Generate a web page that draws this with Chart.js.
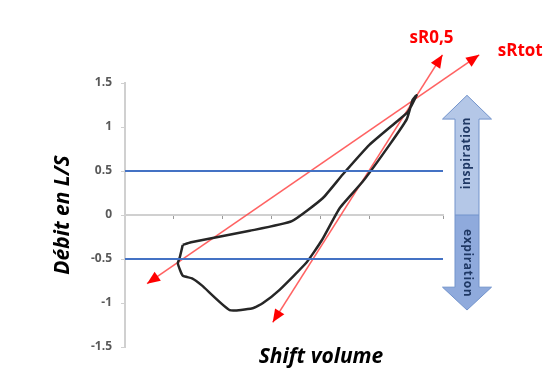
<!DOCTYPE html>
<html>
<head>
<meta charset="utf-8">
<script src="https://cdn.jsdelivr.net/npm/chart.js@4.4.0/dist/chart.umd.min.js"></script>
<style>
  html, body { margin: 0; padding: 0; background: #fff; }
  #wrap { width: 559px; height: 385px; }
</style>
</head>
<body>
<div id="wrap"><canvas id="boucle"></canvas></div>
<script>
// boucle debit / shift volume (volume en unites arbitraires)
var loopX = [1.18, 1.35, 2.55, 3.41, 4.04, 4.45, 5.0, 5.55, 5.78, 5.96, 5.88, 5.76, 5.41, 4.86, 4.39, 4.02, 3.71, 3.16, 2.82, 2.61, 2.14, 1.57, 1.37, 1.18, 1.08, 1.12, 1.18];
var loopY = [-0.34, -0.31, -0.18, -0.07, 0.19, 0.46, 0.80, 1.06, 1.17, 1.36, 1.31, 1.09, 0.80, 0.38, 0.08, -0.29, -0.54, -0.85, -1.0, -1.06, -1.08, -0.80, -0.72, -0.69, -0.55, -0.48, -0.34];

// droites de resistance (extremites)
var sRtotX = [0.45, 7.24];
var sRtotY = [-0.78, 1.82];
var sR05X = [3.02, 6.49];
var sR05Y = [-1.22, 1.82];

// seuils +/- 0.5 L/S
var seuils = [0.5, -0.5];
var xMin = 0, xMax = 6.5;
var yTickLabels = ['-1.5', '-1', '-0.5', '0', '0.5', '1', '1.5'];

function pts(xs, ys) {
  return xs.map(function (x, i) { return { x: x, y: ys[i] }; });
}

function drawHead(ctx, from, to, color) {
  var a = Math.atan2(to.y - from.y, to.x - from.x);
  ctx.save();
  ctx.translate(to.x, to.y);
  ctx.rotate(a);
  ctx.beginPath();
  ctx.moveTo(0, 0);
  ctx.lineTo(-13, -5.5);
  ctx.lineTo(-13, 5.5);
  ctx.closePath();
  ctx.fillStyle = color;
  ctx.fill();
  ctx.restore();
}

var decorPlugin = {
  id: 'decor',
  afterDatasetsDraw: function (chart) {
    var ctx = chart.ctx;
    var area = chart.chartArea;
    var ys = chart.scales.y;

    // pointes de fleche + noms des droites
    chart.data.datasets.forEach(function (ds, i) {
      if (!ds.arrows) return;
      var p = chart.getDatasetMeta(i).data;
      drawHead(ctx, p[1], p[0], '#ff0000');
      drawHead(ctx, p[0], p[1], '#ff0000');
      ctx.save();
      ctx.font = 'bold 17px "Open Sans"';
      ctx.fillStyle = '#ff0000';
      ctx.textAlign = 'center';
      ctx.textBaseline = 'middle';
      ctx.fillText(ds.label, p[1].x + ds.labelDx, p[1].y + ds.labelDy);
      ctx.restore();
    });

    // double fleche inspiration / expiration
    var xc = area.right + 24;
    var top = ys.getPixelForValue(1.36), topBase = ys.getPixelForValue(1.09);
    var mid = ys.getPixelForValue(0);
    var botBase = ys.getPixelForValue(-0.82), bot = ys.getPixelForValue(-1.08);
    var sw = 12, hw = 24.5;
    ctx.save();
    ctx.beginPath();
    ctx.moveTo(xc, top);
    ctx.lineTo(xc + hw, topBase);
    ctx.lineTo(xc + sw, topBase);
    ctx.lineTo(xc + sw, mid);
    ctx.lineTo(xc - sw, mid);
    ctx.lineTo(xc - sw, topBase);
    ctx.lineTo(xc - hw, topBase);
    ctx.closePath();
    ctx.fillStyle = '#b4c7e7';
    ctx.fill();
    ctx.beginPath();
    ctx.moveTo(xc, bot);
    ctx.lineTo(xc + hw, botBase);
    ctx.lineTo(xc + sw, botBase);
    ctx.lineTo(xc + sw, mid);
    ctx.lineTo(xc - sw, mid);
    ctx.lineTo(xc - sw, botBase);
    ctx.lineTo(xc - hw, botBase);
    ctx.closePath();
    ctx.fillStyle = '#8faadc';
    ctx.fill();
    ctx.beginPath();
    ctx.moveTo(xc, top);
    ctx.lineTo(xc + hw, topBase);
    ctx.lineTo(xc + sw, topBase);
    ctx.lineTo(xc + sw, botBase);
    ctx.lineTo(xc + hw, botBase);
    ctx.lineTo(xc, bot);
    ctx.lineTo(xc - hw, botBase);
    ctx.lineTo(xc - sw, botBase);
    ctx.lineTo(xc - sw, topBase);
    ctx.lineTo(xc - hw, topBase);
    ctx.closePath();
    ctx.moveTo(xc - sw, mid);
    ctx.lineTo(xc + sw, mid);
    ctx.strokeStyle = '#7293cb';
    ctx.lineWidth = 1;
    ctx.stroke();

    ctx.fillStyle = '#1f3864';
    ctx.font = 'bold 12px "Open Sans"';
    ctx.letterSpacing = '0.6px';
    ctx.textAlign = 'center';
    ctx.textBaseline = 'middle';
    ctx.save();
    ctx.translate(xc, (topBase + mid) / 2 - 14);
    ctx.rotate(-Math.PI / 2);
    ctx.fillText('inspiration', 0, 0);
    ctx.restore();
    ctx.save();
    ctx.translate(xc, (botBase + mid) / 2 + 12);
    ctx.rotate(Math.PI / 2);
    ctx.fillText('expiration', 0, 0);
    ctx.restore();
    ctx.letterSpacing = '0px';

    // titre de l'axe horizontal
    ctx.fillStyle = '#000';
    ctx.font = 'italic bold 21px "Open Sans"';
    ctx.fillText('Shift volume', (area.left + area.right) / 2 + 37, area.bottom + 10);
    ctx.restore();
  }
};

var datasets = [];
seuils.forEach(function (v) {
  datasets.push({
    label: 'seuil ' + v,
    data: pts([xMin, xMax], [v, v]),
    borderColor: '#4472c4',
    borderWidth: 2,
    pointRadius: 0
  });
});
datasets.push({
  label: 'boucle',
  data: pts(loopX, loopY),
  borderColor: '#262626',
  borderWidth: 2.5,
  pointRadius: 0,
  tension: 0.15
});
datasets.push({
  label: 'sRtot',
  data: pts(sRtotX, sRtotY),
  borderColor: 'rgba(255, 70, 70, 0.85)',
  borderWidth: 1.6,
  pointRadius: 0,
  clip: false,
  arrows: true,
  labelDx: 41,
  labelDy: -4
});
datasets.push({
  label: 'sR0,5',
  data: pts(sR05X, sR05Y),
  borderColor: 'rgba(255, 70, 70, 0.85)',
  borderWidth: 1.6,
  pointRadius: 0,
  clip: false,
  arrows: true,
  labelDx: -11,
  labelDy: -17
});

var ctx = document.getElementById('boucle').getContext('2d');

new Chart(ctx, {
  type: 'scatter',
  data: { datasets: datasets },
  options: {
    responsive: true,
    maintainAspectRatio: false,
    animation: false,
    showLine: true,
    layout: { padding: { left: 0, top: 83, right: 116, bottom: 38 } },
    plugins: { legend: { display: false }, tooltip: { enabled: false } },
    scales: {
      x: {
        type: 'linear',
        min: xMin,
        max: xMax,
        position: { y: 0 },
        ticks: { display: false, stepSize: 1 },
        grid: { drawOnChartArea: false, drawTicks: true, tickLength: 3, color: '#9a9a9a' },
        border: { color: '#d0d0d0', width: 2 }
      },
      y: {
        type: 'linear',
        min: -1.5,
        max: 1.5,
        afterFit: function (scale) { scale.width = 125; },
        ticks: {
          stepSize: 0.5,
          padding: 9,
          color: '#595959',
          font: { family: 'Open Sans', size: 12, weight: 'bold' },
          callback: function (v, i) { return yTickLabels[i]; }
        },
        grid: { drawOnChartArea: false, tickLength: 4, color: '#d0d0d0' },
        border: { color: '#d0d0d0', width: 2 },
        title: {
          display: true,
          text: 'Débit en L/S',
          color: '#000',
          font: { family: 'Open Sans', size: 21, style: 'italic', weight: 'bold' },
          padding: { top: 50 }
        }
      }
    }
  },
  plugins: [decorPlugin]
});
</script>
</body>
</html>
